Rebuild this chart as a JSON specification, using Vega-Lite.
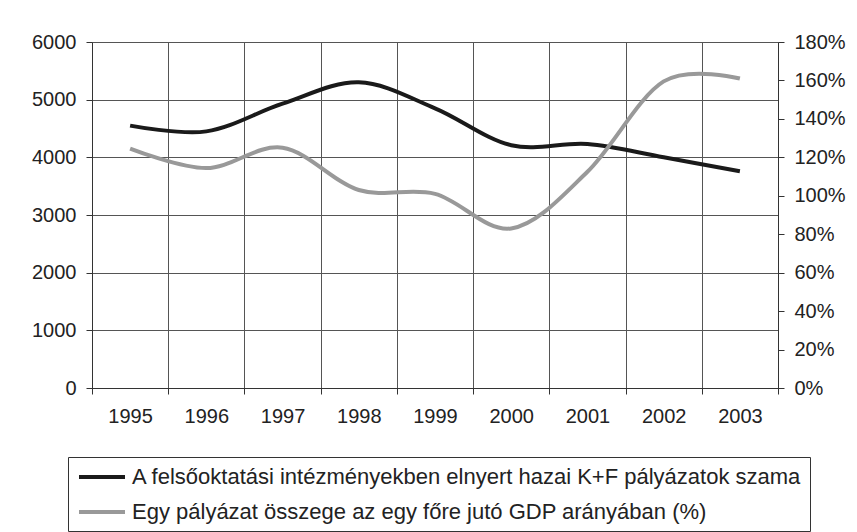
{
  "$schema": "https://vega.github.io/schema/vega-lite/v6.json",
  "autosize": "none",
  "width": 686,
  "height": 346,
  "padding": {"left": 92, "top": 42, "right": 79, "bottom": 144},
  "background": "white",
  "config": {
    "view": {"stroke": null},
    "font": "Liberation Sans",
    "axis": {
      "labelFont": "Liberation Sans",
      "labelFontSize": 20,
      "labelColor": "#222222",
      "domainColor": "#333333",
      "tickColor": "#333333",
      "gridColor": "#555555",
      "gridOpacity": 1,
      "tickSize": 6,
      "title": null
    }
  },
  "data": {
    "values": [
      {"year": "1995", "count": 4550, "ratio": 1.245},
      {"year": "1996", "count": 4450, "ratio": 1.144},
      {"year": "1997", "count": 4930, "ratio": 1.25},
      {"year": "1998", "count": 5300, "ratio": 1.03},
      {"year": "1999", "count": 4850, "ratio": 1.01},
      {"year": "2000", "count": 4210, "ratio": 0.83},
      {"year": "2001", "count": 4230, "ratio": 1.125},
      {"year": "2002", "count": 4000, "ratio": 1.595},
      {"year": "2003", "count": 3760, "ratio": 1.61}
    ]
  },
  "encoding": {
    "x": {
      "field": "year",
      "type": "ordinal",
      "bandPosition": 0.5,
      "scale": {"type": "band", "paddingInner": 0, "paddingOuter": 0},
      "axis": {
        "labelAngle": 0,
        "tickBand": "extent",
        "grid": true,
        "labelPadding": 12
      }
    }
  },
  "layer": [
    {
      "mark": {"type": "line", "interpolate": "cardinal", "strokeWidth": 4},
      "encoding": {
        "y": {
          "field": "count",
          "type": "quantitative",
          "scale": {"domain": [0, 6000], "nice": false},
          "axis": {
            "values": [0, 1000, 2000, 3000, 4000, 5000, 6000],
            "grid": true,
            "labelPadding": 10,
            "format": "d"
          }
        },
        "color": {
          "datum": "A felsőoktatási intézményekben elnyert hazai K+F pályázatok szama",
          "type": "nominal",
          "scale": {
            "domain": [
              "A felsőoktatási intézményekben elnyert hazai K+F pályázatok szama",
              "Egy pályázat összege az egy főre jutó GDP arányában (%)"
            ],
            "range": ["#1a1a1a", "#999999"]
          },
          "legend": {
            "orient": "none",
            "legendX": -24,
            "legendY": 415,
            "title": null,
            "symbolType": "M-0.9,0H3.7",
            "symbolSize": 400,
            "symbolStrokeWidth": 4,
            "labelFont": "Liberation Sans",
            "labelFontSize": 22,
            "labelColor": "#222222",
            "labelLimit": 900,
            "labelOffset": 32,
            "rowPadding": 12,
            "padding": 8,
            "strokeColor": "#333333",
            "fillColor": "white"
          }
        }
      }
    },
    {
      "mark": {"type": "line", "interpolate": "cardinal", "strokeWidth": 4},
      "encoding": {
        "y": {
          "field": "ratio",
          "type": "quantitative",
          "scale": {"domain": [0, 1.8], "nice": false},
          "axis": {
            "orient": "right",
            "values": [0, 0.2, 0.4, 0.6, 0.8, 1.0, 1.2, 1.4, 1.6, 1.8],
            "format": ".0%",
            "grid": false,
            "labelPadding": 10
          }
        },
        "color": {
          "datum": "Egy pályázat összege az egy főre jutó GDP arányában (%)",
          "type": "nominal"
        }
      }
    }
  ],
  "resolve": {"scale": {"y": "independent"}, "axis": {"y": "independent"}}
}
